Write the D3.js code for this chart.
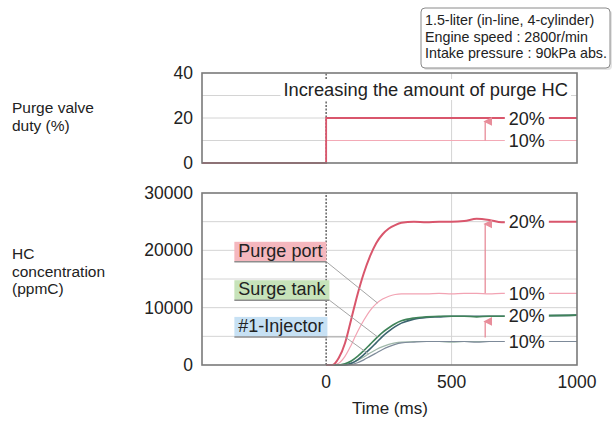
<!DOCTYPE html>
<html>
<head>
<meta charset="utf-8">
<script src="https://cdnjs.cloudflare.com/ajax/libs/d3/7.8.5/d3.min.js"></script>
<style>
  body { margin: 0; background: #fff; }
  text { font-family: "Liberation Sans", Arial, sans-serif; fill: #222; }
</style>
</head>
<body>
<svg id="chart"></svg>
<script>
const width = 616;
const height = 421;

// time axis (ms) shared by all HC curves
const timeMs      = [0, 25, 50, 75, 100, 125, 150, 175, 200, 225, 250, 275, 300, 350, 400, 450, 500, 550, 600, 650, 700, 750, 800, 1000];
const purgePort20 = [0, 0, 1200, 3800, 8000, 12300, 16000, 19000, 21300, 22800, 23800, 24400, 24800, 25000, 24900, 25000, 25000, 25100, 25500, 25300, 24900, 25000, 25000, 25000];
const purgePort10 = [0, 0, 300, 1500, 3500, 5800, 7800, 9500, 10700, 11500, 12000, 12300, 12400, 12400, 12400, 12500, 12400, 12500, 12500, 12400, 12500, 12500, 12500, 12500];
const surgeTank20 = [0, 0, 0, 200, 700, 1500, 2500, 3600, 4700, 5700, 6500, 7200, 7700, 8200, 8400, 8500, 8500, 8500, 8400, 8500, 8500, 8600, 8600, 8700];
const injector20  = [0, 0, 0, 0, 300, 900, 1800, 2800, 3900, 5000, 5900, 6700, 7300, 8000, 8300, 8400, 8500, 8500, 8500, 8500, 8500, 8600, 8600, 8700];
const surgeTank10 = [0, 0, 0, 0, 300, 800, 1400, 2100, 2700, 3200, 3600, 3850, 4000, 4100, 4100, 4100, 4000, 4100, 4100, 4100, 4100, 4100, 4100, 4100];
const injector10  = [0, 0, 0, 0, 100, 400, 900, 1500, 2100, 2700, 3200, 3600, 3850, 4000, 4100, 4100, 4100, 4100, 4000, 4100, 4100, 4100, 4100, 4100];

// purge valve duty step
const dutyTime = [-495, 0, 0, 1000];
const duty20   = [0, 0, 20, 20];
const duty10   = [0, 0, 10, 10];

// ticks
const dutyTicks = [0, 20, 40];
const hcTicks   = [0, 10000, 20000, 30000];
const timeTicks = [0, 500, 1000];
const dutyGrid  = [10, 20, 30];
const hcGrid    = [5000, 10000, 15000, 20000, 25000];
const timeGrid  = [500];

// right-hand % labels
const labelTime     = 800;
const topPctText    = ["20%", "10%"];
const topPctValue   = [20, 10];
const hcPctText     = ["20%", "10%", "20%", "10%"];
const hcPctValue    = [25000, 12400, 8600, 4100];

// arrows "increasing"
const arrowTime   = 634;
const dutyArrow   = [10, 20];
const hcArrows    = [[12500, 24600], [4800, 7600]];

// series name labels and their leader lines
const nameText    = ["Purge port", "Surge tank", "#1-Injector"];
const nameValue   = [18000, 11300, 4900];
const nameFill    = ["#f5b7be", "#c7e3ba", "#c7e1f4"];
const nameLeaders = [
  [[25, 18000], [205, 10800]],
  [[45, 11300], [205, 4900]],
  [[20, 4900], [75, 4900], [170, 1900]]
];

const infoLines = ["1.5-liter (in-line, 4-cylinder)", "Engine speed : 2800r/min", "Intake pressure : 90kPa abs."];

const svg = d3.select("#chart").attr("width", width).attr("height", height);

const x = d3.scaleLinear().domain([-495, 1000]).range([202, 577]);
const yTop = d3.scaleLinear().domain([0, 40]).range([163, 73]);
const yBot = d3.scaleLinear().domain([0, 30000]).range([365, 193]);

function panel(y, grid) {
  const g = svg.append("g");
  g.append("rect")
    .attr("x", x.range()[0]).attr("y", y.range()[1])
    .attr("width", x.range()[1] - x.range()[0])
    .attr("height", y.range()[0] - y.range()[1])
    .attr("fill", "#fff");
  g.selectAll(".hg").data(grid).enter().append("line")
    .attr("x1", x.range()[0]).attr("x2", x.range()[1])
    .attr("y1", d => y(d)).attr("y2", d => y(d))
    .attr("stroke", "#d4d4d4").attr("stroke-width", 1);
  g.selectAll(".vg").data(timeGrid).enter().append("line")
    .attr("x1", d => x(d)).attr("x2", d => x(d))
    .attr("y1", y.range()[0]).attr("y2", y.range()[1])
    .attr("stroke", "#d4d4d4").attr("stroke-width", 1);
  g.append("line")
    .attr("x1", x(0)).attr("x2", x(0))
    .attr("y1", y.range()[0]).attr("y2", y.range()[1])
    .attr("stroke", "#6f6f6f").attr("stroke-width", 1.6)
    .attr("stroke-dasharray", "2,1.5");
  return g;
}

const topG = panel(yTop, dutyGrid);
const botG = panel(yBot, hcGrid);

// y axis tick labels
function yLabels(y, ticks) {
  svg.selectAll(null).data(ticks).enter().append("text")
    .attr("x", 193).attr("y", d => y(d) + 6)
    .attr("text-anchor", "end")
    .attr("font-size", 17.5)
    .text(d => d);
}
yLabels(yTop, dutyTicks);
yLabels(yBot, hcTicks);

svg.selectAll(null).data(timeTicks).enter().append("text")
  .attr("x", d => x(d)).attr("y", 388)
  .attr("text-anchor", "middle")
  .attr("font-size", 17.5)
  .text(d => d);

svg.append("text").attr("x", x(250) + 1).attr("y", 414)
  .attr("text-anchor", "middle").attr("font-size", 17)
  .text("Time (ms)");

function multiline(lines, x0, y0, dy, size) {
  const t = svg.append("text").attr("font-size", size);
  lines.forEach((s, i) => t.append("tspan").attr("x", x0).attr("y", y0 + i * dy).text(s));
}
multiline(["Purge valve", "duty (%)"], 12, 113, 17.5, 15.5);
multiline(["HC", "concentration", "(ppmC)"], 12, 259, 17.5, 15.5);

// top panel title
const title = topG.append("text")
  .attr("x", 568).attr("y", 96)
  .attr("text-anchor", "end").attr("font-size", 18.3)
  .text("Increasing the amount of purge HC");
const tb = title.node().getBBox();
topG.insert("rect", () => title.node()).attr("x", tb.x - 3).attr("y", tb.y)
  .attr("width", tb.width + 6).attr("height", tb.height).attr("fill", "#fff");

// duty lines
const dutyLine = d3.line().x((d, i) => x(dutyTime[i])).y(d => yTop(d));
topG.append("path").datum(duty10).attr("d", dutyLine)
  .attr("fill", "none").attr("stroke", "#f3aab6").attr("stroke-width", 1.2);
topG.append("path").datum(duty20).attr("d", dutyLine)
  .attr("fill", "none").attr("stroke", "#d9566c").attr("stroke-width", 1.8);

// HC curves
const hcLine = d3.line().x((d, i) => x(timeMs[i])).y(d => yBot(d)).curve(d3.curveMonotoneX);
const curves = [
  { v: surgeTank10, c: "#9fb8aa", w: 1.2 },
  { v: injector10, c: "#7d8a99", w: 1.2 },
  { v: purgePort10, c: "#f2a3b3", w: 1.2 },
  { v: injector20, c: "#3c6470", w: 1.6 },
  { v: surgeTank20, c: "#3f8359", w: 1.6 },
  { v: purgePort20, c: "#d9566c", w: 2 }
];
curves.forEach(s => {
  botG.append("path").datum(s.v).attr("d", hcLine)
    .attr("fill", "none").attr("stroke", s.c).attr("stroke-width", s.w);
});

// arrows
const defs = svg.append("defs");
defs.append("marker").attr("id", "ah").attr("viewBox", "0 0 10 10")
  .attr("refX", 5).attr("refY", 2).attr("markerWidth", 7).attr("markerHeight", 7)
  .attr("orient", "auto-start-reverse")
  .append("path").attr("d", "M0,10 L5,0 L10,10 Z").attr("fill", "#e88d9a");

function arrow(g, y, a, b) {
  g.append("line").attr("x1", x(arrowTime)).attr("x2", x(arrowTime))
    .attr("y1", y(a)).attr("y2", y(b))
    .attr("stroke", "#e88d9a").attr("stroke-width", 1.3)
    .attr("marker-end", "url(#ah)");
}
arrow(topG, yTop, dutyArrow[0], dutyArrow[1] - 1.5);
hcArrows.forEach(a => arrow(botG, yBot, a[0], a[1]));

// % labels with white backing
function pctLabel(g, y, v, s) {
  const t = g.append("text").attr("x", x(labelTime)).attr("y", y(v) + 6.5)
    .attr("text-anchor", "middle").attr("font-size", 18).text(s);
  const b = t.node().getBBox();
  g.insert("rect", () => t.node()).attr("x", b.x - 4).attr("y", y(v) - 4)
    .attr("width", b.width + 8).attr("height", 8).attr("fill", "#fff");
}
topPctText.forEach((s, i) => pctLabel(topG, yTop, topPctValue[i], s));
hcPctText.forEach((s, i) => pctLabel(botG, yBot, hcPctValue[i], s));

// leader lines and series name boxes
const leader = d3.line().x(d => x(d[0])).y(d => yBot(d[1]));
nameText.forEach((s, i) => {
  const x0 = x(-366);
  const yb = yBot(nameValue[i]);
  const t = botG.append("text").attr("x", x0 + 4).attr("y", yb - 5)
    .attr("font-size", 18).text(s);
  const w = t.node().getComputedTextLength() + 8;
  botG.insert("rect", () => t.node()).attr("x", x0).attr("y", yb - 20)
    .attr("width", w).attr("height", 20).attr("fill", nameFill[i]);
  botG.append("line").attr("x1", x0).attr("x2", x0 + w).attr("y1", yb).attr("y2", yb)
    .attr("stroke", "#8d8d8d").attr("stroke-width", 1.5);
  botG.append("path").datum([[x.invert(x0 + w), nameValue[i]]].concat(nameLeaders[i].slice(1)))
    .attr("d", leader).attr("fill", "none").attr("stroke", "#a5a5a5").attr("stroke-width", 1);
});

// frames
[yTop, yBot].forEach(y => {
  svg.append("rect")
    .attr("x", x.range()[0]).attr("y", y.range()[1])
    .attr("width", x.range()[1] - x.range()[0])
    .attr("height", y.range()[0] - y.range()[1])
    .attr("fill", "none").attr("stroke", "#7a7a7a").attr("stroke-width", 1.6);
});

// info box
svg.append("rect").attr("x", 423).attr("y", 10).attr("width", 189).attr("height", 60)
  .attr("rx", 4).attr("fill", "#e4e4e4");
svg.append("rect").attr("x", 421).attr("y", 8).attr("width", 189).attr("height", 60)
  .attr("rx", 4).attr("fill", "#fff").attr("stroke", "#8a8a8a").attr("stroke-width", 1);
infoLines.forEach((s, i) => {
  svg.append("text").attr("x", 425).attr("y", 25 + i * 16.5)
    .attr("font-size", 14.3).text(s);
});
</script>
</body>
</html>
